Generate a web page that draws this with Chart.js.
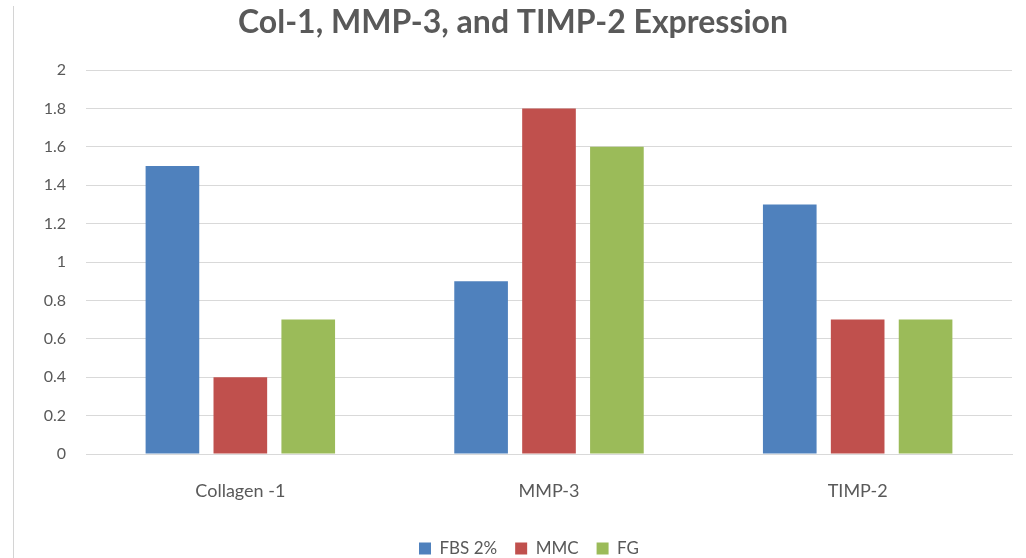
<!DOCTYPE html>
<html>
<head>
<meta charset="utf-8">
<script src="https://cdn.jsdelivr.net/npm/chart.js@4"></script>
<style>
  html, body { margin: 0; padding: 0; background: #fff; overflow: hidden; }
  #wrap { position: relative; width: 1026px; height: 558px; overflow: hidden; }
  #edge { position: absolute; left: 13px; top: 6px; bottom: 0; width: 1px; background: #d4d4d4; }
</style>
</head>
<body>
<div id="wrap">
  <div id="edge"></div>
  <canvas id="chart" width="1026" height="567"></canvas>
</div>
<script>
// ---- data ----
const categories = ["Collagen -1", "MMP-3", "TIMP-2"];
const fbsValues = [1.5, 0.9, 1.3];
const mmcValues = [0.4, 1.8, 0.7];
const fgValues = [0.7, 1.6, 0.7];
const seriesNames = ["FBS 2%", "MMC", "FG"];
const seriesColors = ["#4F81BD", "#C0504D", "#9BBB59"];

const textColor = "#595959";
const fontFamily = "Lato, 'Open Sans', sans-serif";

const ctx = document.getElementById("chart");

// legend in the original sits a little right of centre
const nudgeLegend = {
  id: "nudgeLegend",
  afterLayout(chart) {
    chart.legend.left += 16;
    chart.legend.right += 16;
  },
};

// canvas is a bit taller than the window; the bottom strip is cut off so the legend sits low like the original
new Chart(ctx, {
  type: "bar",
  data: {
    labels: categories,
    datasets: [fbsValues, mmcValues, fgValues].map((vals, i) => ({
      label: seriesNames[i],
      data: vals,
      backgroundColor: seriesColors[i],
      borderWidth: 0,
      categoryPercentage: 0.66,
      barPercentage: 0.79,
    })),
  },
  plugins: [nudgeLegend],
  options: {
    responsive: false,
    animation: false,
    layout: { padding: { left: 14, right: 14, top: 3, bottom: 0 } },
    plugins: {
      title: {
        display: true,
        text: "Col-1, MMP-3, and TIMP-2 Expression",
        color: textColor,
        font: { family: fontFamily, size: 32, weight: "bold" },
        padding: { top: 0, bottom: 28.6 },
      },
      legend: {
        position: "bottom",
        labels: {
          color: textColor,
          font: { family: fontFamily, size: 17 },
          boxWidth: 12,
          boxHeight: 12,
          padding: 18,
        },
      },
      tooltip: { enabled: false },
    },
    scales: {
      x: {
        grid: { display: false },
        border: { color: "#d9d9d9" },
        ticks: { color: textColor, font: { family: fontFamily, size: 18 }, padding: 18 },
        afterFit: (scale) => { scale.height = 68; },
      },
      y: {
        min: 0,
        max: 2,
        ticks: {
          stepSize: 0.2,
          color: textColor,
          font: { family: fontFamily, size: 16 },
          padding: 20,
          callback: (v) => Math.round(v * 10) / 10,
        },
        grid: { color: "#d9d9d9", drawTicks: false },
        border: { display: false },
        afterFit: (scale) => { scale.width = 72; },
      },
    },
  },
});
</script>
</body>
</html>
